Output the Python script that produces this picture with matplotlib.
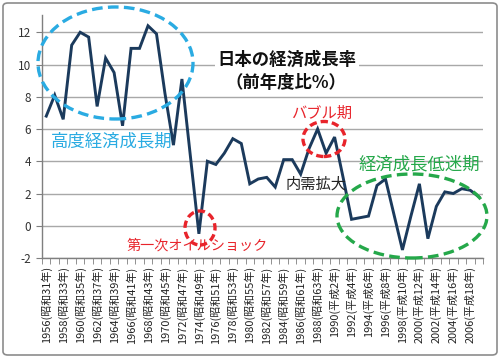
import matplotlib
matplotlib.use("Agg")
import matplotlib.pyplot as plt
from matplotlib.patches import Ellipse, FancyBboxPatch

plt.rcParams['font.family'] = ['Noto Sans CJK JP', 'DejaVu Sans']

years = list(range(1956, 2008))
growth = [6.8, 8.1, 6.6, 11.2, 12.0, 11.7, 7.4, 10.4, 9.5, 6.2,
          11.0, 11.0, 12.4, 11.9, 8.2, 5.0, 9.1, 4.3, -0.5, 4.0,
          3.8, 4.5, 5.4, 5.1, 2.6, 2.9, 3.0, 2.4, 4.1, 4.1,
          3.2, 4.8, 6.0, 4.5, 5.5, 3.0, 0.4, 0.5, 0.6, 2.5,
          2.9, 0.7, -1.5, 0.6, 2.6, -0.8, 1.2, 2.1, 2.0, 2.3,
          2.2, 1.8]

label_years = list(range(1956, 2007, 2))
xlabels = ["1956(昭和31年)", "1958(昭和33年)", "1960(昭和35年)", "1962(昭和37年)",
           "1964(昭和39年)", "1966(昭和41年)", "1968(昭和43年)", "1970(昭和45年)",
           "1972(昭和47年)", "1974(昭和49年)", "1976(昭和51年)", "1978(昭和53年)",
           "1980(昭和55年)", "1982(昭和57年)", "1984(昭和59年)", "1986(昭和61年)",
           "1988(昭和63年)", "1990(平成2年)", "1992(平成4年)", "1994(平成6年)",
           "1996(平成8年)", "1998(平成10年)", "2000(平成12年)", "2002(平成14年)",
           "2004(平成16年)", "2006(平成18年)"]
yticks = [-2, 0, 2, 4, 6, 8, 10, 12]

W, H = 500, 359
fig = plt.figure(figsize=(W / 100, H / 100), dpi=100)
fig.patch.set_facecolor('white')

def fx(px):
    return px / W

def fy(py):
    return 1 - py / H

ax = fig.add_axes([fx(42), fy(258), fx(483) - fx(42), fy(15) - fy(258)])
ax.plot(years, growth, color='#1B3A5C', lw=2.1, solid_joinstyle='miter', zorder=3)
ax.set_xlim(1955.5, 2007.5)
ax.set_ylim(-2, 13.07)
ax.set_yticks(yticks)
ax.set_yticklabels([str(v) for v in yticks], fontsize=8.5, color='#333333')
ax.grid(axis='y', color='#A8A8A8', lw=1.0)
ax.set_axisbelow(True)
ax.set_xticks(label_years)
ax.set_xticklabels(xlabels, rotation=90, fontsize=7.9, color='#222222', va='top', ha='center')
ax.set_xticks([y - 0.5 for y in years] + [2007.5], minor=True)
ax.tick_params(axis='x', which='major', length=0, pad=6)
ax.tick_params(axis='x', which='minor', length=4, color='#7F7F7F', direction='out')
ax.tick_params(axis='y', length=4, color='#7F7F7F', direction='out', pad=4)
for s in ['top', 'right']:
    ax.spines[s].set_visible(False)
for s in ['left', 'bottom']:
    ax.spines[s].set_color('#7F7F7F')
    ax.spines[s].set_linewidth(1.0)

# title box
fig.text(fx(287), fy(60), "日本の経済成長率", fontsize=12.5, fontweight='bold', ha='center', va='center',
         color='#111111', bbox=dict(facecolor='white', edgecolor='none', pad=1.5), zorder=5)
fig.text(fx(286), fy(83), "（前年度比%）", fontsize=12.5, fontweight='bold', ha='center', va='center',
         color='#111111', zorder=5)

# annotations
cyan = '#2AABE2'
red = '#E8242B'
green = '#25A84A'
fig.add_artist(Ellipse((fx(115.5), fy(63)), fx(155), 112 / H, transform=fig.transFigure,
                       fill=False, edgecolor=cyan, lw=2.4, linestyle=(0, (3.2, 1.6)), zorder=6))
fig.text(fx(112), fy(141), "高度経済成長期", fontsize=12.5, color=cyan, ha='center', va='center', zorder=6)

fig.add_artist(Ellipse((fx(200), fy(228)), fx(30), 34 / H, transform=fig.transFigure,
                       fill=False, edgecolor=red, lw=2.4, linestyle=(0, (2.2, 1.2)), zorder=6))
fig.text(fx(197), fy(246), "第一次オイルショック", fontsize=10.2, color=red, ha='center', va='center', zorder=6)

fig.add_artist(Ellipse((fx(324), fy(139)), fx(42), 35 / H, transform=fig.transFigure,
                       fill=False, edgecolor=red, lw=2.4, linestyle=(0, (2.2, 1.2)), zorder=6))
fig.text(fx(322), fy(113), "バブル期", fontsize=11, color=red, ha='center', va='center', zorder=6)

fig.text(fx(316), fy(184), "内需拡大", fontsize=11, color='#222222', ha='center', va='center', zorder=6)

fig.add_artist(Ellipse((fx(412), fy(216)), fx(150), 84 / H, transform=fig.transFigure,
                       fill=False, edgecolor=green, lw=2.4, linestyle=(0, (3.2, 1.6)), zorder=6))
fig.text(fx(419), fy(164), "経済成長低迷期", fontsize=12.5, color=green, ha='center', va='center', zorder=6)

# outer border
fig.add_artist(FancyBboxPatch((fx(3), fy(355)), fx(494), 352 / H, transform=fig.transFigure,
                              boxstyle='round,pad=0,rounding_size=0.01', fill=False,
                              edgecolor='#8C8C8C', lw=1.2, zorder=0))

fig.savefig('out.png', dpi=100)
